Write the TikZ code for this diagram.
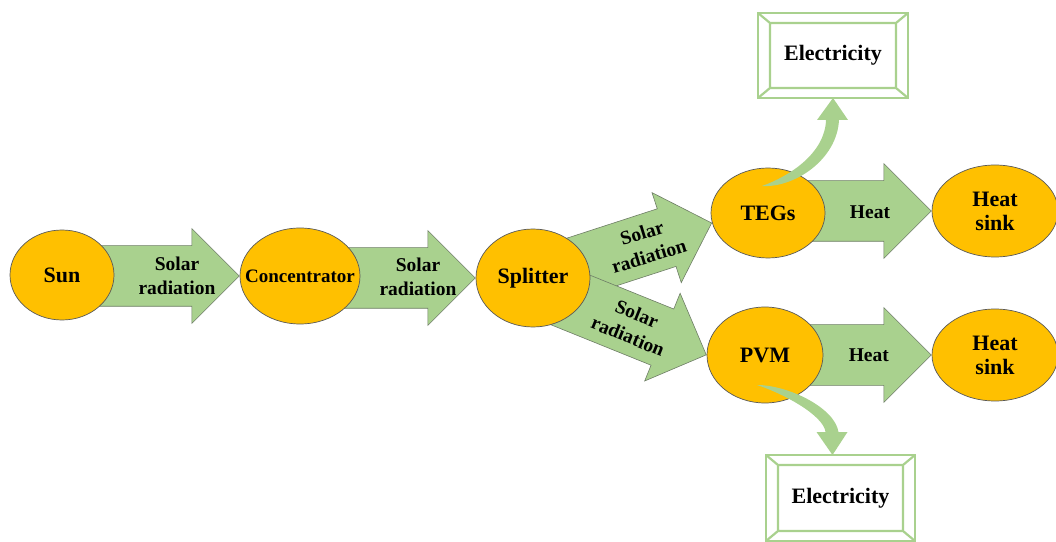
\documentclass[tikz,border=0pt]{standalone}
\usepackage{fontspec}
\setmainfont{Liberation Serif}
\usetikzlibrary{shapes.geometric,shapes.arrows,calc}
\pgfdeclarelayer{background}
\pgfsetlayers{background,main}
\definecolor{orbe}{HTML}{FFC000}
\definecolor{vertflux}{HTML}{A9D18E}
\definecolor{bordflux}{HTML}{6E7D66}

\begin{document}
\begin{tikzpicture}[x=1pt, y=1pt,
    bloc/.style={ellipse, draw=black!65, line width=0.7pt, fill=orbe, inner sep=0pt,
        align=center, font=\fontsize{22}{24}\selectfont\bfseries},
    flux/.style={single arrow, draw=bordflux, line width=0.6pt, fill=vertflux,
        inner xsep=0pt, inner ysep=30pt, single arrow head extend=17pt, anchor=tip},
    etiq/.style={align=center, font=\fontsize{19.5}{24}\selectfont\bfseries},
    sortie/.style={draw=vertflux, line width=2.2pt, fill=white, outer sep=0pt,
        font=\fontsize{22}{24}\selectfont\bfseries}]
    \useasboundingbox (0,0) rectangle (1056,541);

    % Les ellipses
    \node[bloc, minimum width=104pt, minimum height=90pt] (sun) at (62,266) {Sun};
    \node[bloc, minimum width=120pt, minimum height=96pt,
        font=\fontsize{19}{22}\selectfont\bfseries] (conc) at (300,265) {\makebox[0pt]{Concentrator}};
    \node[bloc, minimum width=114pt, minimum height=98pt] (split) at (533,263) {Splitter};
    \node[bloc, minimum width=114pt, minimum height=90pt] (tegs) at (768,328) {TEGs};
    \node[bloc, minimum width=116pt, minimum height=96pt] (pvm) at (765,186) {PVM};
    \node[bloc, minimum width=126pt, minimum height=92pt] (puits1) at (995,330) {Heat\\sink};
    \node[bloc, minimum width=126pt, minimum height=92pt] (puits2) at (995,186) {Heat\\sink};

    % Sorties electriques
    \node[sortie, minimum width=150pt, minimum height=85pt] (elec1) at (833,485.5) {Electricity};
    \node[sortie, minimum width=149pt, minimum height=86pt] (elec2) at (840.5,43) {Electricity};
    \foreach \e in {elec1,elec2} {
        \draw[vertflux, line width=2.2pt]
            ($(\e.north west)+(12,-10)$) rectangle ($(\e.south east)+(-12,10)$)
            (\e.north west) -- ++(12,-10)
            (\e.north east) -- ++(-12,-10)
            (\e.south west) -- ++(12,10)
            (\e.south east) -- ++(-12,10);
    }

    % Fleches larges sous les ellipses
    \begin{pgfonlayer}{background}
        \node[flux, minimum height=150pt] (f1) at (conc.west) {};
        \node[flux, minimum height=146pt] (f2) at (split.west) {};
        \node[flux, minimum height=160pt, rotate=18] (f3) at (tegs.190) {};
        \node[flux, minimum height=165pt, rotate=-22] (f4) at (pvm.west) {};
        \node[flux, minimum height=143pt] (f5) at (puits1.west) {};
        \node[flux, minimum height=143pt] (f6) at (puits2.west) {};
    \end{pgfonlayer}

    % Textes des fleches
    \node[etiq] (t1) at ($(sun.east)!0.5!(conc.west)$) {Solar\\radiation};
    \node[etiq] (t2) at ($(conc.east)!0.5!(split.west)$) {Solar\\radiation};
    \node[etiq, rotate=17] (t3) at ($(f3.tip)!70pt!(f3.tail)$) {Solar\\radiation};
    \node[etiq, rotate=-22] (t4) at ($(f4.tip)!80pt!(f4.tail)$) {Solar\\radiation};
    \node[etiq] (h1) at ($(tegs.east)!0.42!(puits1.west)$) {Heat};
    \node[etiq] (h2) at ($(pvm.east)!0.42!(puits2.west)$) {Heat};

    % Fleches courbes vers l'electricite
    \coordinate (q1) at ($(tegs)+(-6,27)$);
    \coordinate (p1) at (elec1.south);
    \fill[vertflux] (q1) .. controls ($(q1)+(28,10)$) and ($(p1)+(-8,-55)$) .. ($(p1)+(-7,-22)$)
        -- ($(p1)+(-16,-22)$) -- (p1) -- ($(p1)+(15,-22)$) -- ($(p1)+(6,-22)$)
        .. controls ($(p1)+(4,-62)$) and ($(q1)+(32,-2)$) .. (q1) -- cycle;
    \coordinate (q2) at ($(pvm)+(-8,-30)$);
    \coordinate (p2) at ($(elec2.north)+(-8,0)$);
    \fill[vertflux] (q2) .. controls ($(q2)+(30,0)$) and ($(p2)+(2,48)$) .. ($(p2)+(6,23)$)
        -- ($(p2)+(15,23)$) -- (p2) -- ($(p2)+(-16,23)$) -- ($(p2)+(-7,23)$)
        .. controls ($(p2)+(-9,40)$) and ($(q2)+(25,-8)$) .. (q2) -- cycle;
\end{tikzpicture}
\end{document}
